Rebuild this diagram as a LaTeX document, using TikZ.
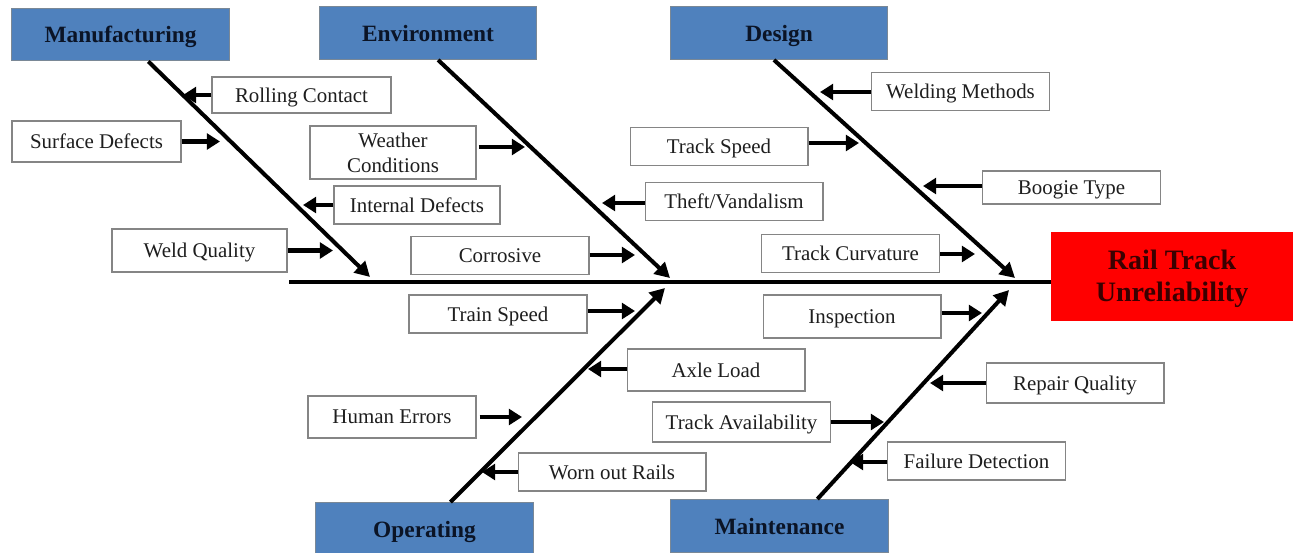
\documentclass[tikz,border=0pt]{standalone}
\usepackage{fontspec}
\setmainfont{Liberation Serif}
\usetikzlibrary{arrows.meta}
\usetikzlibrary{calc}

\definecolor{catblue}{HTML}{4F81BD}
\definecolor{catedge}{HTML}{7A8896}
\definecolor{cattext}{HTML}{0B1426}
\definecolor{causeedge}{HTML}{858585}
\definecolor{causetext}{HTML}{1E1E1E}
\definecolor{effectred}{HTML}{FF0000}
\definecolor{effecttext}{HTML}{3A0000}

\begin{document}
\begin{tikzpicture}[x=0.02cm,y=-0.02cm,
	cat/.style={draw=catedge,line width=0.8pt,fill=catblue,inner sep=0pt,minimum width=4.35cm,minimum height=1.05cm,text depth=0pt,font=\fontsize{13.3}{16}\selectfont\bfseries,text=cattext},
	cause/.style={draw=causeedge,line width=0.6pt,fill=white,inner sep=0pt,minimum width=3.56cm,minimum height=0.76cm,text depth=0pt,font=\fontsize{11.9}{14.2}\selectfont,text=causetext,align=center},
	bone/.style={line width=2.3pt,-{Triangle[length=8.5pt,width=9pt]}},
	causearrow/.style={line width=2.8pt,-{Triangle[length=7.5pt,width=9pt]}}]
		\useasboundingbox (0,0) rectangle (1293,552);
		
		% effect and spine
		\node[draw=effectred,fill=effectred,inner sep=0pt,minimum width=4.84cm,minimum height=1.76cm,align=center,text depth=0pt,font=\fontsize{16}{18.3}\selectfont\bfseries,text=effecttext] (effect) at (1172,276) {Rail Track\\Unreliability};
		\coordinate (spinestart) at (289,282);
		\draw[line width=2.8pt] (spinestart) -- (spinestart -| effect.west);
		
		% categories
		\node[cat] (manu) at (120.5,34.5) {Manufacturing};
		\node[cat] (env) at (428,33) {Environment};
		\node[cat] (design) at (779,33) {Design};
		\node[cat] (oper) at (424.5,529) {Operating};
		\node[cat] (maint) at (779.5,526) {Maintenance};
		
		\coordinate (manutip) at (370,277);
		\coordinate (envtip) at (670,278);
		\coordinate (designtip) at (1015,278);
		\coordinate (opertip) at (665,288);
		\coordinate (mainttip) at (1009,290);
		
		\draw[bone] ($(manu.south west)!0.627!(manu.south east)$) -- (manutip);
		\draw[bone] ($(env.south west)!0.546!(env.south east)$) -- (envtip);
		\draw[bone] ($(design.south west)!0.477!(design.south east)$) -- (designtip);
		\draw[bone] ($(oper.north west)!0.618!(oper.north east)$) -- (opertip);
		\draw[bone] ($(maint.north west)!0.673!(maint.north east)$) -- (mainttip);
		
		% manufacturing causes
		\node[cause,minimum width=3.58cm,minimum height=0.72cm] (rolling) at (301.5,95) {Rolling Contact};
		\node[cause,minimum width=3.38cm,minimum height=0.82cm] (surface) at (96.5,141.5) {Surface Defects};
		\node[cause,minimum width=3.32cm] (internal) at (417,205) {Internal Defects};
		\node[cause,minimum width=3.5cm,minimum height=0.86cm] (weld) at (199.5,250.5) {Weld Quality};
		\coordinate (rollingtip) at (183,95);
		\coordinate (surfacetip) at (220,141.5);
		\coordinate (internaltip) at (303,205);
		\coordinate (weldtip) at (333,250.5);
		\draw[causearrow] (rollingtip -| rolling.west) -- (rollingtip);
		\draw[causearrow] (surfacetip -| surface.east) -- (surfacetip);
		\draw[causearrow] (internaltip -| internal.west) -- (internaltip);
		\draw[causearrow] (weldtip -| weld.east) -- (weldtip);
		
		% environment causes
		\node[cause,minimum width=3.32cm,minimum height=1.06cm] (weather) at (393,152.5) {Weather\\Conditions};
		\node[cause] (theft) at (734,201.5) {Theft/Vandalism};
		\node[cause] (corrosive) at (500,255.5) {Corrosive};
		\coordinate (weathertip) at (525,147);
		\coordinate (thefttip) at (602,203);
		\coordinate (corrosivetip) at (635,255);
		\draw[causearrow] ($(weathertip -| weather.east)+(2,0)$) -- (weathertip);
		\draw[causearrow] (thefttip -| theft.west) -- (thefttip);
		\draw[causearrow] (corrosivetip -| corrosive.east) -- (corrosivetip);
		
		% design causes
		\node[cause] (welding) at (960.5,91.5) {Welding Methods};
		\node[cause] (trackspeed) at (719,146.5) {Track Speed};
		\node[cause,minimum height=0.66cm] (boogie) at (1071.5,187.5) {Boogie Type};
		\node[cause] (curvature) at (850.5,253.5) {Track Curvature};
		\coordinate (weldingtip) at (820,92);
		\coordinate (trackspeedtip) at (859,143);
		\coordinate (boogietip) at (923,186);
		\coordinate (curvaturetip) at (975,254);
		\draw[causearrow] (weldingtip -| welding.west) -- (weldingtip);
		\draw[causearrow] (trackspeedtip -| trackspeed.east) -- (trackspeedtip);
		\draw[causearrow] (boogietip -| boogie.west) -- (boogietip);
		\draw[causearrow] (curvaturetip -| curvature.east) -- (curvaturetip);
		
		% operating causes
		\node[cause] (trainspeed) at (498,314) {Train Speed};
		\node[cause,minimum height=0.84cm] (axle) at (716,370) {Axle Load};
		\node[cause,minimum width=3.36cm,minimum height=0.84cm] (human) at (392,417) {Human Errors};
		\node[cause,minimum width=3.76cm] (worn) at (612,472) {Worn out Rails};
		\coordinate (trainspeedtip) at (635,311);
		\coordinate (axletip) at (588,369);
		\coordinate (humantip) at (522,417);
		\coordinate (worntip) at (482,472);
		\draw[causearrow] (trainspeedtip -| trainspeed.east) -- (trainspeedtip);
		\draw[causearrow] (axletip -| axle.west) -- (axletip);
		\draw[causearrow] ($(humantip -| human.east)+(3,0)$) -- (humantip);
		\draw[causearrow] (worntip -| worn.west) -- (worntip);
		
		% maintenance causes
		\node[cause,minimum height=0.86cm] (inspection) at (852,316.5) {Inspection};
		\node[cause,minimum height=0.8cm] (repair) at (1075,383) {Repair Quality};
		\node[cause,minimum height=0.8cm] (availability) at (741.5,422) {Track Availability};
		\node[cause] (failure) at (976.5,461) {Failure Detection};
		\coordinate (inspectiontip) at (982,313);
		\coordinate (repairtip) at (930,383);
		\coordinate (availabilitytip) at (884,422);
		\coordinate (failuretip) at (850,462);
		\draw[causearrow] (inspectiontip -| inspection.east) -- (inspectiontip);
		\draw[causearrow] (repairtip -| repair.west) -- (repairtip);
		\draw[causearrow] (availabilitytip -| availability.east) -- (availabilitytip);
		\draw[causearrow] (failuretip -| failure.west) -- (failuretip);
		
	\end{tikzpicture}
\end{document}
